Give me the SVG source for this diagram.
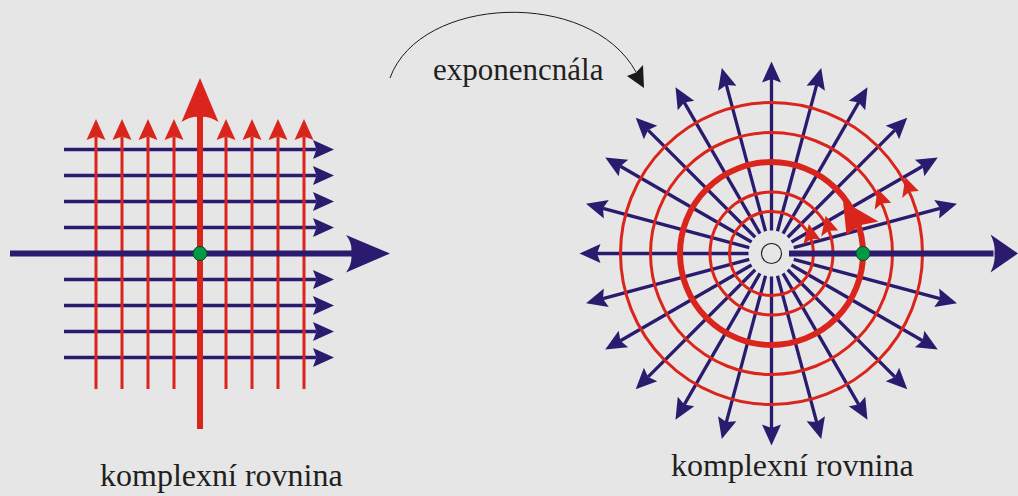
<svg xmlns="http://www.w3.org/2000/svg" width="1018" height="496" viewBox="0 0 1018 496">
<style>
.bt{stroke:#2a1b6f;stroke-width:3.3;fill:none}
.rt{stroke:#da251d;stroke-width:3;fill:none}
.bm{stroke:#2a1b6f;stroke-width:6;fill:none}
.rm{stroke:#da251d;stroke-width:6;fill:none}
.bf{fill:#2a1b6f}
.rf{fill:#da251d}
.dot{fill:#009a44;stroke:#1c3b20;stroke-width:1}
.lbl{font-family:"Liberation Serif","Times New Roman",serif;fill:#231f20}
</style>
<defs>
<marker id="ab" viewBox="-4 -10 22 20" refX="0" refY="0" markerWidth="22" markerHeight="20" orient="auto" markerUnits="userSpaceOnUse"><path d="M-3.5,-9.5 L17.5,0 L-3.5,9.5 L0,0 Z" fill="#2a1b6f"/></marker>
<marker id="ar" viewBox="-4 -10 22 20" refX="0" refY="0" markerWidth="22" markerHeight="20" orient="auto" markerUnits="userSpaceOnUse"><path d="M-3.5,-9.5 L17.5,0 L-3.5,9.5 L0,0 Z" fill="#da251d"/></marker>
<path id="ca" d="M2,-18 L9,0 L0,-3 L-9,0 Z"/>
</defs>
<rect width="1018" height="496" fill="#e6e6e6"/>

<g id="left-plane">
  <g id="left-horizontals">
    <line class="bt" x1="64" y1="149.5" x2="316.5" y2="149.5" marker-end="url(#ab)"/>
    <line class="bt" x1="64" y1="175.5" x2="316.5" y2="175.5" marker-end="url(#ab)"/>
    <line class="bt" x1="64" y1="201.5" x2="316.5" y2="201.5" marker-end="url(#ab)"/>
    <line class="bt" x1="64" y1="227.5" x2="316.5" y2="227.5" marker-end="url(#ab)"/>
    <line class="bt" x1="64" y1="279.5" x2="316.5" y2="279.5" marker-end="url(#ab)"/>
    <line class="bt" x1="64" y1="305.5" x2="316.5" y2="305.5" marker-end="url(#ab)"/>
    <line class="bt" x1="64" y1="331.5" x2="316.5" y2="331.5" marker-end="url(#ab)"/>
    <line class="bt" x1="64" y1="357.5" x2="316.5" y2="357.5" marker-end="url(#ab)"/>
  </g>
  <g id="left-verticals">
    <line class="rt" x1="96" y1="389" x2="96" y2="136.5" marker-end="url(#ar)"/>
    <line class="rt" x1="122" y1="389" x2="122" y2="136.5" marker-end="url(#ar)"/>
    <line class="rt" x1="148" y1="389" x2="148" y2="136.5" marker-end="url(#ar)"/>
    <line class="rt" x1="174" y1="389" x2="174" y2="136.5" marker-end="url(#ar)"/>
    <line class="rt" x1="226" y1="389" x2="226" y2="136.5" marker-end="url(#ar)"/>
    <line class="rt" x1="252" y1="389" x2="252" y2="136.5" marker-end="url(#ar)"/>
    <line class="rt" x1="278" y1="389" x2="278" y2="136.5" marker-end="url(#ar)"/>
    <line class="rt" x1="304" y1="389" x2="304" y2="136.5" marker-end="url(#ar)"/>
  </g>
  <g id="left-real-axis">
    <line class="bm" x1="10" y1="253.5" x2="352" y2="253.5"/>
    <path class="bf" d="M390,253.5 L346,235 Q353,244 351,253.5 Q353,263 346,272.5 Z"/>
  </g>
  <g id="left-imag-axis">
    <line class="rm" x1="200" y1="429" x2="200" y2="115"/>
    <path class="rf" d="M200,78 L181.5,122 Q191,116 200,117 Q209,116 218.5,122 Z"/>
  </g>
  <circle id="left-point" class="dot" cx="200" cy="253.5" r="7"/>
</g>

<g id="exp-arrow">
  <path d="M390,78 C420,-5 590,-12 636,72" fill="none" stroke="#1a1a1a" stroke-width="1"/>
  <path d="M644,88 L627,76 L636,72.5 L643,65 Z" fill="#1a1a1a"/>
  <text class="lbl" x="433" y="80" font-size="31" font-family="Liberation Serif, serif">exponencnála</text>
</g>

<g id="right-plane" transform="translate(771.5,253.5)">
  <g id="rays">
    <line class="bt" x1="23" y1="0" x2="174.5" y2="0" marker-end="url(#ab)" transform="rotate(-15)"/>
    <line class="bt" x1="23" y1="0" x2="174.5" y2="0" marker-end="url(#ab)" transform="rotate(-30)"/>
    <line class="bt" x1="23" y1="0" x2="174.5" y2="0" marker-end="url(#ab)" transform="rotate(-45)"/>
    <line class="bt" x1="23" y1="0" x2="174.5" y2="0" marker-end="url(#ab)" transform="rotate(-60)"/>
    <line class="bt" x1="23" y1="0" x2="174.5" y2="0" marker-end="url(#ab)" transform="rotate(-75)"/>
    <line class="bt" x1="23" y1="0" x2="174.5" y2="0" marker-end="url(#ab)" transform="rotate(-90)"/>
    <line class="bt" x1="23" y1="0" x2="174.5" y2="0" marker-end="url(#ab)" transform="rotate(-105)"/>
    <line class="bt" x1="23" y1="0" x2="174.5" y2="0" marker-end="url(#ab)" transform="rotate(-120)"/>
    <line class="bt" x1="23" y1="0" x2="174.5" y2="0" marker-end="url(#ab)" transform="rotate(-135)"/>
    <line class="bt" x1="23" y1="0" x2="174.5" y2="0" marker-end="url(#ab)" transform="rotate(-150)"/>
    <line class="bt" x1="23" y1="0" x2="174.5" y2="0" marker-end="url(#ab)" transform="rotate(-165)"/>
    <line class="bt" x1="23" y1="0" x2="174.5" y2="0" marker-end="url(#ab)" transform="rotate(-180)"/>
    <line class="bt" x1="23" y1="0" x2="174.5" y2="0" marker-end="url(#ab)" transform="rotate(-195)"/>
    <line class="bt" x1="23" y1="0" x2="174.5" y2="0" marker-end="url(#ab)" transform="rotate(-210)"/>
    <line class="bt" x1="23" y1="0" x2="174.5" y2="0" marker-end="url(#ab)" transform="rotate(-225)"/>
    <line class="bt" x1="23" y1="0" x2="174.5" y2="0" marker-end="url(#ab)" transform="rotate(-240)"/>
    <line class="bt" x1="23" y1="0" x2="174.5" y2="0" marker-end="url(#ab)" transform="rotate(-255)"/>
    <line class="bt" x1="23" y1="0" x2="174.5" y2="0" marker-end="url(#ab)" transform="rotate(-270)"/>
    <line class="bt" x1="23" y1="0" x2="174.5" y2="0" marker-end="url(#ab)" transform="rotate(-285)"/>
    <line class="bt" x1="23" y1="0" x2="174.5" y2="0" marker-end="url(#ab)" transform="rotate(-300)"/>
    <line class="bt" x1="23" y1="0" x2="174.5" y2="0" marker-end="url(#ab)" transform="rotate(-315)"/>
    <line class="bt" x1="23" y1="0" x2="174.5" y2="0" marker-end="url(#ab)" transform="rotate(-330)"/>
    <line class="bt" x1="23" y1="0" x2="174.5" y2="0" marker-end="url(#ab)" transform="rotate(-345)"/>
  </g>
  <g id="circles">
    <circle class="rt" r="42"/>
    <circle class="rt" r="61.5"/>
    <circle class="rm" r="91.5"/>
    <circle class="rt" r="121"/>
    <circle class="rt" r="151"/>
    <use href="#ca" class="rf" transform="rotate(-16) translate(42,0)"/>
    <use href="#ca" class="rf" transform="rotate(-19) translate(61.5,0)"/>
    <use href="#ca" class="rf" transform="rotate(-23) translate(121,0)"/>
    <use href="#ca" class="rf" transform="rotate(-23) translate(151,0)"/>
    <path class="rf" d="M71.5,-52.5 L107,-32 L89.5,-28.5 L75,-18.5 Z"/>
  </g>
  <circle id="origin-hole" r="10" fill="none" stroke="#222" stroke-width="1.2"/>
  <g id="right-real-axis">
    <line class="bm" x1="17.5" y1="0" x2="222" y2="0"/>
    <path class="bf" d="M246.5,0 L219,-19 Q224,-9 223,0 Q224,9 219,19 Z"/>
  </g>
  <circle id="right-point" class="dot" cx="91.5" cy="0" r="7"/>
</g>

<g id="labels">
  <text class="lbl" x="100" y="486" font-size="32" font-family="Liberation Serif, serif">komplexní rovnina</text>
  <text class="lbl" x="671" y="476" font-size="32" font-family="Liberation Serif, serif">komplexní rovnina</text>
</g>
</svg>
